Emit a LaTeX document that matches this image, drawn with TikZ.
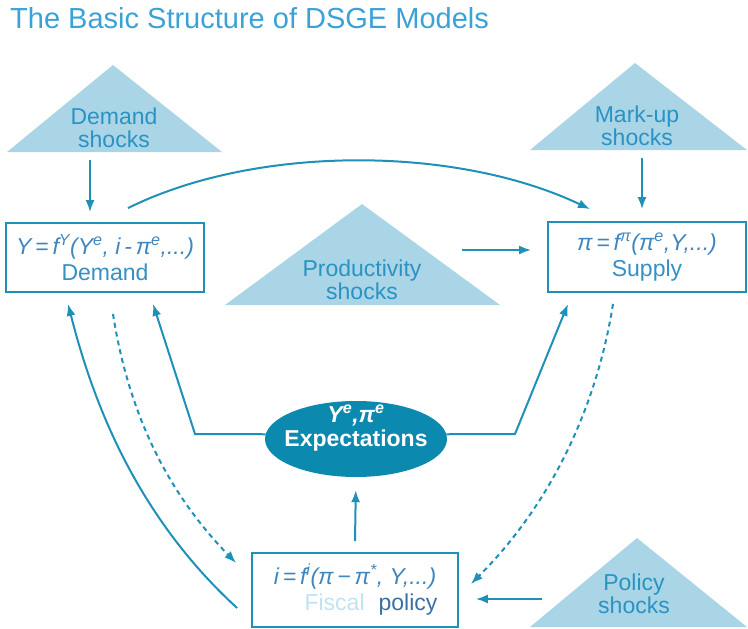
\documentclass[tikz,border=0pt]{standalone}
\usepackage{fontspec}
\setmainfont{Liberation Sans}
\usetikzlibrary{arrows.meta,positioning,shapes.geometric}
\definecolor{dsgeline}{HTML}{1F90B8}
\definecolor{shockfill}{HTML}{A9D5E6}
\definecolor{shocktext}{HTML}{2A93C4}
\definecolor{boxtext}{HTML}{3590C3}
\definecolor{eqtext}{HTML}{3F86BF}
\definecolor{expfill}{HTML}{0B89AE}
\definecolor{titletext}{HTML}{3AA2D6}
\definecolor{fiscaltext}{HTML}{BFE3F2}
\definecolor{policytext}{HTML}{3A70A6}
\tikzset{font=\fontsize{23}{26}\selectfont}
\tikzset{eqbox/.style={draw=dsgeline,line width=1.8pt,inner sep=0pt,align=center,text=boxtext}}
\tikzset{shock/.style={fill=shockfill,draw=none}}
\tikzset{shocklabel/.style={align=center,text=shocktext,inner sep=0pt,font=\fontsize{23}{23}\selectfont}}
\tikzset{flow/.style={draw=dsgeline,line width=2pt,-{Latex[length=12pt,width=9pt]}}}
\tikzset{guess/.style={flow,dash pattern=on 5pt off 4pt}}

\begin{document}
\begin{tikzpicture}[x=1pt,y=-1pt]
  \useasboundingbox (0,0) rectangle (748,629);
  \node[anchor=base west,inner sep=0pt,text=titletext,font=\fontsize{29}{29}\selectfont] (title) at (10,28) {The Basic Structure of DSGE Models};
  % shocks
  \path[shock] (7,152) -- (113,65) -- (222,152) -- cycle;
  \path[shock] (530,150) -- (635,63) -- (747,150) -- cycle;
  \path[shock] (225,305) -- (362,204) -- (500,305) -- cycle;
  \path[shock] (530,627) -- (637,538) -- (747,627) -- cycle;
  \node[shocklabel] (dshock) at (114,128) {Demand\\shocks};
  \node[shocklabel] (mshock) at (637,126) {Mark-up\\shocks};
  \node[shocklabel] (pshock) at (362,280) {Productivity\\shocks};
  \node[shocklabel] (ishock) at (634,594) {Policy\\shocks};
  % equations
  \node[eqbox,minimum width=198pt,minimum height=69pt] (dem) at (105,257.5)
    {\textcolor{eqtext}{\itshape Y\,=\,f\textsuperscript{Y}(Y\textsuperscript{e}, i\,-\,π\textsuperscript{e},...)}\\Demand};
  \node[eqbox,minimum width=198pt,minimum height=70pt] (sup) at (647,257)
    {\textcolor{eqtext}{\itshape π\,=\,f\textsuperscript{π}(π\textsuperscript{e},Y,...)}\\Supply};
  \node[eqbox,minimum width=206pt,minimum height=74pt] (pol) at (355,590)
    {\textcolor{eqtext}{\itshape i\,=\,f\textsuperscript{i}(π\,−\,π\textsuperscript{*}, Y,...)}\\
     \hspace*{32pt}\textcolor{fiscaltext}{Fiscal}\hspace{14pt}\textcolor{policytext}{policy}};
  \node[ellipse,fill=expfill,minimum width=182pt,minimum height=76pt,inner sep=0pt] (ell) at (356,439) {};
  \node[text=white,align=center,inner sep=0pt,font=\bfseries\fontsize{23}{24}\selectfont] (exptxt) at (356,428)
    {{\itshape Y\textsuperscript{e},π\textsuperscript{e}}\\Expectations};
  % links
  \coordinate (dfoot) at (90,160);
  \coordinate (mfoot) at (642,158);
  \coordinate (pfoot) at (462,250);
  \coordinate (ifoot) at (542,599);
  \coordinate (lknee) at (195,434);
  \coordinate (rknee) at (515,434);
  \draw[flow,shorten >=10pt] (dfoot) -- (dfoot |- dem.north);
  \draw[flow,shorten >=12pt] (mfoot) -- (mfoot |- sup.north);
  \draw[flow,shorten >=16pt] (pfoot) -- (pfoot -| sup.west);
  \draw[flow,shorten >=17pt] (ifoot) -- (ifoot -| pol.east);
  \draw[flow,shorten >=13pt] ([yshift=11pt]pol.north) -- (ell.south);
  \draw[flow] ([xshift=23pt,yshift=14pt]dem.north) .. controls (255,145) and (455,145) .. ([xshift=-57pt,yshift=12pt]sup.north);
  \draw[flow] (ell.177) -- (lknee) -- ([xshift=48pt,yshift=-11pt]dem.south);
  \draw[flow] (ell.3) -- (rknee) -- ([xshift=-79pt,yshift=-11pt]sup.south);
  \draw[flow] ([xshift=-14pt,yshift=-18pt]pol.west) .. controls (130,510) and (90,390) .. ([xshift=-37pt,yshift=-11pt]dem.south);
  \draw[guess] ([xshift=8pt,yshift=-21pt]dem.south) .. controls (128,410) and (165,490) .. ([xshift=-15pt,yshift=27pt]pol.west);
  \draw[guess] ([xshift=-34pt,yshift=-11pt]sup.south) .. controls (598,400) and (555,500) .. ([xshift=12pt,yshift=6pt]pol.east);
\end{tikzpicture}
\end{document}
